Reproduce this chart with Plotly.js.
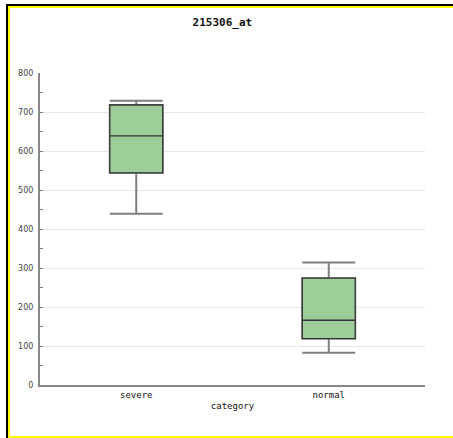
<!DOCTYPE html>
<html>
<head>
<meta charset="utf-8">
<script src="https://cdn.plot.ly/plotly-3.0.1.min.js"></script>
<style>
  html, body { margin: 0; padding: 0; background: #ffffff; overflow: hidden; width: 453px; height: 438px; }
  #frame { position: absolute; left: 6px; top: 4px; width: 447px; height: 434px;
           border-left: 2px solid #000; border-top: 2px solid #000; box-sizing: border-box; }
  #inner { position: absolute; left: 0; top: 0; width: 445px; height: 432px;
           border-left: 2px solid #ffff00; border-top: 2px solid #ffff00; border-bottom: 2px solid #ffff00;
           box-sizing: border-box; }
  #chart { position: absolute; left: 0; top: 0; width: 453px; height: 438px; }
</style>
</head>
<body>
<div id="frame"><div id="inner"></div></div>
<div id="chart"></div>
<script>
const categories = ["severe", "normal"];
const lowerWhisker = [439, 83];
const q1Values = [544, 119];
const medianValues = [639, 166];
const q3Values = [718, 274];
const upperWhisker = [729, 314];
const yTickValues = [0, 100, 200, 300, 400, 500, 600, 700, 800];
const chartTitle = "215306_at";
const xTitle = "category";

// whiskers (grey) + filled box
const whiskerTrace = {
  type: "box",
  x: categories,
  q1: q1Values,
  median: medianValues,
  q3: q3Values,
  lowerfence: lowerWhisker,
  upperfence: upperWhisker,
  width: 0.275,
  whiskerwidth: 1,
  fillcolor: "#9dcd99",
  line: { color: "#7f7f7f", width: 2 },
  boxpoints: false,
  hoverinfo: "none",
  showlegend: false
};

// dark box outline and median drawn on top
const boxTrace = {
  type: "box",
  x: categories,
  q1: q1Values,
  median: medianValues,
  q3: q3Values,
  lowerfence: q1Values,
  upperfence: q3Values,
  width: 0.275,
  whiskerwidth: 1,
  fillcolor: "#9dcd99",
  line: { color: "#333333", width: 1.3 },
  boxpoints: false,
  hoverinfo: "none",
  showlegend: false
};

const layout = {
  width: 453,
  height: 438,
  boxmode: "overlay",
  margin: { l: 40, r: 28, t: 73, b: 53 },
  paper_bgcolor: "rgba(0,0,0,0)",
  plot_bgcolor: "rgba(0,0,0,0)",
  title: {
    text: chartTitle,
    font: { family: "DejaVu Sans Mono", size: 11, color: "#111", weight: "bold" },
    x: 0.491, xref: "container", xanchor: "center",
    y: 0.95, yref: "container", yanchor: "middle"
  },
  xaxis: {
    type: "category",
    range: [-0.5, 1.5],
    showgrid: false,
    zeroline: false,
    showline: true,
    linecolor: "#888888",
    linewidth: 2,
    ticks: "",
    tickfont: { family: "DejaVu Sans Mono", size: 9, color: "#111" },
    title: { text: xTitle, font: { family: "DejaVu Sans Mono", size: 9, color: "#111" }, standoff: 4 }
  },
  yaxis: {
    range: [0, 800],
    tickvals: yTickValues,
    showgrid: true,
    gridcolor: "#e6e6e6",
    gridwidth: 1,
    zeroline: false,
    showline: true,
    linecolor: "#888888",
    linewidth: 2,
    ticks: "inside",
    ticklen: 3,
    tickcolor: "#777777",
    minor: { dtick: 50, ticks: "inside", ticklen: 3, tickcolor: "#777777", showgrid: false },
    tickfont: { family: "DejaVu Sans", size: 8, color: "#444" },
    ticklabelstandoff: 3
  }
};

Plotly.newPlot("chart", [whiskerTrace, boxTrace], layout, { displayModeBar: false, staticPlot: true });
</script>
</body>
</html>
